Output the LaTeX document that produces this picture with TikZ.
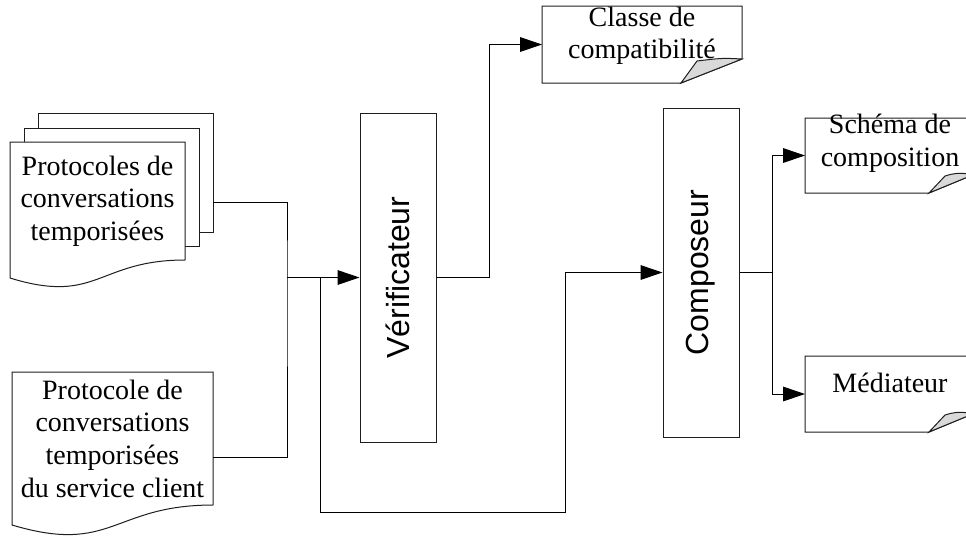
\documentclass[tikz,border=0pt]{standalone}
\usepackage{fontspec}
\setmainfont{Liberation Serif}
\setsansfont{Liberation Sans}
\usetikzlibrary{arrows.meta,calc}
\usepackage{xcolor}
\definecolor{trait}{RGB}{30,30,30}
\definecolor{pli}{RGB}{217,217,217}
\pgfdeclarelayer{background}
\pgfsetlayers{background,main}

% note with curled corner: node, fold width, fold height (px)
\newcommand{\fiche}[3]{%
  \filldraw[bord] (#1.north west) -- (#1.north east) -- ($(#1.south east)+(0,-#3)$)
    -- ($(#1.south east)+(-#2,0)$) -- (#1.south west) -- cycle;
  \filldraw[bord,fill=pli] ($(#1.south east)+(-#2,0)$) -- ($(#1.south east)+(-#2+16,-#3+2)$)
    .. controls ($(#1.south east)+(-20,-#3-1)$) .. ($(#1.south east)+(0,-#3)$) -- cycle;
}
% document with wavy bottom: node, drop of left corner, bulge (px)
\newcommand{\docu}[3]{%
  \filldraw[bord] (#1.south east) -- (#1.north east) -- (#1.north west) -- ($(#1.south west)+(0,#2)$)
    .. controls ($(#1.south)+(0,#2+#3)$) and (#1.south) .. (#1.south east);
}

\begin{document}
\begin{tikzpicture}[x=0.75pt,y=-0.75pt,>=Triangle]

\tikzset{
  bord/.style={draw=trait,fill=white,line width=0.75pt},
  zone/.style={inner sep=0pt,outer sep=0pt},
  texte/.style={zone,align=center,font=\fontsize{21}{24.5}\selectfont},
  boite/.style={draw=trait,fill=white,line width=0.75pt,inner sep=0pt,
    minimum width=57pt,minimum height=246.75pt},
  vertical/.style={zone,rotate=90,font=\sffamily\fontsize{24}{28}\selectfont},
  fil/.style={draw=black,line width=0.75pt},
  fleche/.style={fil,-{Triangle[length=16.5pt,width=11pt]}}
}

\useasboundingbox (0,0) rectangle (966,537);
\clip (0,0) rectangle (966,537);

% input documents
\node[zone,minimum width=131.25pt,minimum height=89.25pt] (pile1) at (125.5,172.5) {};
\node[zone,minimum width=131.25pt,minimum height=88.5pt] (pile2) at (111.5,187) {};
\node[texte,minimum width=131.25pt,minimum height=88.5pt] (pile3) at (97.5,201)
  {Protocoles de\\conversations\\temporisées};
\node[texte,minimum width=150.75pt,minimum height=99.75pt] (client) at (112.5,438.5)
  {Protocole de\\conversations\\temporisées\\du service client};

% tools
\node[boite] (verif) at (398,277.5) {};
\node[boite] (compo) at (701,272.5) {};
\node[vertical] (verif-t) at (verif.center) {Vérificateur};
\node[vertical] (compo-t) at (compo.center) {Composeur};

% output notes
\node[zone,minimum width=150pt,minimum height=57.75pt] (classe) at (642,44.5) {};
\node[zone,minimum width=127.5pt,minimum height=56.25pt] (schema) at (890,155.5) {};
\node[zone,minimum width=127.5pt,minimum height=57pt] (media) at (890,394) {};

\node[texte] (classe-t) at ([yshift=6.5pt]classe.center) {Classe de\\compatibilité};
\node[texte] (schema-t) at ([yshift=9pt]schema.center) {Schéma de\\composition};
\node[texte] (media-t) at ([yshift=8pt]media.center) {Médiateur};

% outlines behind the texts
\begin{pgfonlayer}{background}
  \filldraw[bord] (pile1.north west) rectangle (pile1.south east);
  \filldraw[bord] (pile2.north west) rectangle (pile2.south east);
  \docu{pile3}{18}{27}
  \docu{client}{20}{30}
  \fiche{classe}{61}{24}
  \fiche{schema}{46}{19}
  \fiche{media}{46}{19}
\end{pgfonlayer}

% connectors
\coordinate (j1) at (287,277.5);
\coordinate (j2) at (320,277.5);
\coordinate (j3) at (565,512);
\draw[fil] ($(pile1.south east)+(0,-30)$) -| (j1) |- ($(client.south east)+(0,-48)$);
\draw[fleche] (j1) -- (verif.west);
\draw[fleche] (j2) |- (j3) |- (compo.west);
\draw[fleche] (verif.east) -- ++(53,0) |- (classe.west);
\draw[fil] (compo.east) -- ++(33,0) coordinate (j4);
\draw[fleche] (j4) |- (schema.west);
\draw[fleche] (j4) |- (media.west);

\end{tikzpicture}
\end{document}
